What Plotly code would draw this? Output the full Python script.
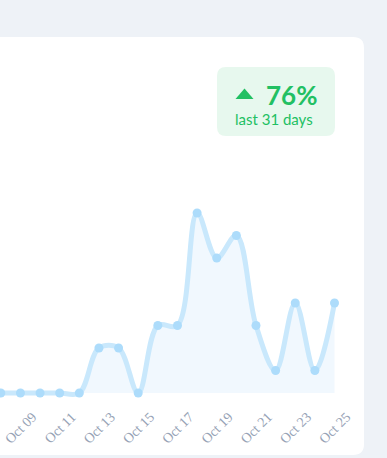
import pandas as pd
import plotly.graph_objects as go

# ---- data ----
dates = pd.date_range("2024-09-25", "2024-10-25", freq="D")
values = [0, 0, 0, 0, 0, 0, 0, 0, 0, 0, 0, 0, 0,   # Sep 25 - Oct 07 (off-view)
          0, 0, 0, 0, 0, 2, 2, 0, 3, 3, 8, 6, 7, 3, 1, 4, 1, 4]  # Oct 08 - Oct 25
badge_value = "76%"
badge_caption = "last 31 days"

W, H = 387, 458
px_per_day = 19.63
x0_px = 0.8  # pixel of Oct 08
d_oct8 = pd.Timestamp("2024-10-08")
start = d_oct8 - pd.Timedelta(days=x0_px / px_per_day)
end = start + pd.Timedelta(days=W / px_per_day)

plot_bottom = 398
zero_px = 393
px_per_unit = 22.5
ymin = -(plot_bottom - zero_px) / px_per_unit
ymax = zero_px / px_per_unit

def px(x):
    return x / W

def py(y):
    return 1 - y / H

def rrect(x0, y0, x1, y1, r):
    X0, X1 = px(x0), px(x1)
    Y0, Y1 = py(y0), py(y1)
    rx, ry = r / W, r / H
    return (f"M {X0+rx},{Y0} L {X1-rx},{Y0} Q {X1},{Y0} {X1},{Y0-ry} "
            f"L {X1},{Y1+ry} Q {X1},{Y1} {X1-rx},{Y1} L {X0+rx},{Y1} "
            f"Q {X0},{Y1} {X0},{Y1+ry} L {X0},{Y0-ry} Q {X0},{Y0} {X0+rx},{Y0} Z")

green = "#22c063"

fig = go.Figure()
fig.add_trace(go.Scatter(
    x=dates, y=values, mode="lines+markers",
    line=dict(color="#c9e8fc", width=5, shape="spline", smoothing=1),
    marker=dict(color="#addcfb", size=9),
    fill="tozeroy", fillcolor="#f1f8fe",
    cliponaxis=False, hoverinfo="skip", showlegend=False,
))

shapes = [
    dict(type="path", xref="paper", yref="paper", path=rrect(-30, 37, 364, 455, 11),
         fillcolor="white", line=dict(width=0), layer="below"),
    dict(type="path", xref="paper", yref="paper", path=rrect(217, 67, 335, 136, 9),
         fillcolor="#e7f8ee", line=dict(width=0), layer="above"),
    dict(type="path", xref="paper", yref="paper",
         path=f"M {px(235.5)},{py(99)} L {px(253.5)},{py(99)} L {px(244.5)},{py(88.5)} Z",
         fillcolor=green, line=dict(width=0), layer="above"),
]

annotations = [
    dict(text=f"<b>{badge_value}</b>", xref="paper", yref="paper",
         x=px(291), y=py(94.5), xanchor="center", yanchor="middle", showarrow=False,
         font=dict(family="Lato", size=26, color=green)),
    dict(text=badge_caption, xref="paper", yref="paper",
         x=px(273.5), y=py(119.5), xanchor="center", yanchor="middle", showarrow=False,
         font=dict(family="Lato", size=15, color=green)),
]

fig.update_layout(
    width=W, height=H,
    margin=dict(l=0, r=0, t=0, b=0),
    paper_bgcolor="#eef2f7",
    plot_bgcolor="rgba(0,0,0,0)",
    shapes=shapes,
    annotations=annotations,
    xaxis=dict(
        domain=[0, 1], range=[start, end], type="date",
        tickmode="linear", tick0="2024-09-25", dtick=2 * 86400000,
        tickformat="%b %d", tickangle=-45,
        tickfont=dict(family="Liberation Serif", size=14, color="#97a3b6"),
        showgrid=False, zeroline=False, showline=False, ticks="",
        ticklabelstandoff=7, ticklabelshift=12,
    ),
    yaxis=dict(
        domain=[(H - plot_bottom) / H, 1], range=[ymin, ymax],
        visible=False, showgrid=False, zeroline=False,
    ),
)

fig.write_html("out.html")
